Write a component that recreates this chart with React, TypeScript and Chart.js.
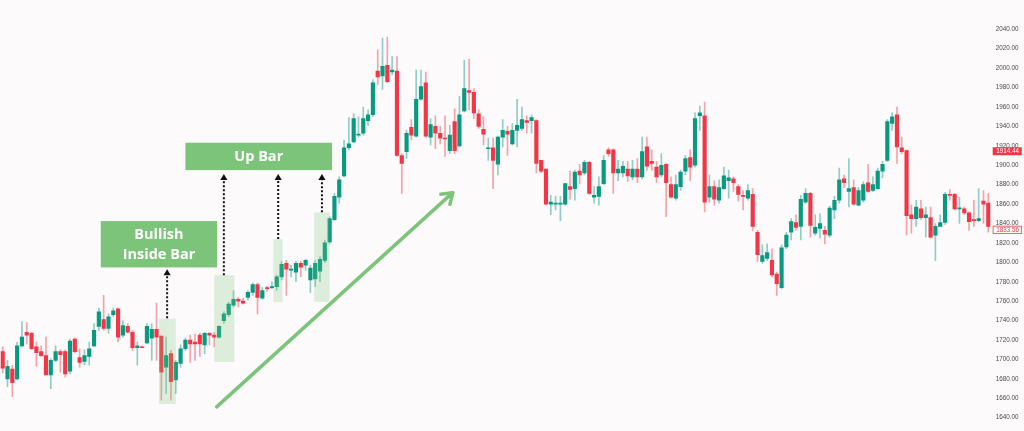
import React, { useEffect, useRef } from 'react';
import { Chart, registerables } from 'chart.js';

Chart.register(...registerables);

const OPEN = [
  1708, 1680, 1690, 1680, 1714, 1728, 1727, 1713, 1708, 1704, 1684, 1699, 1708, 1708, 1688, 1721, 1702, 1698, 1703, 1714,
  1734, 1741, 1732, 1746, 1752, 1725, 1734, 1728, 1712, 1713, 1717, 1722, 1731, 1724,
  1692, 1706, 1679, 1696, 1711, 1720, 1718, 1725, 1715, 1727, 1725, 1723, 1740, 1746, 1756, 1762, 1760, 1764, 1769, 1777,
  1763, 1774, 1774, 1775, 1785, 1799, 1792, 1790, 1799, 1797, 1782, 1783, 1791, 1802, 1821, 1844,
  1867, 1889, 1918, 1924, 1931, 1933, 1946, 1952, 1997, 1992, 2003, 1996, 1997, 1910, 1914, 1939, 1930, 1968, 1985, 1929,
  1940, 1933, 1928, 1915, 1945, 1920, 1956, 1977, 1975, 1953, 1937, 1917,
  1918, 1901, 1929, 1935, 1922, 1936, 1938, 1946, 1946, 1946, 1905, 1896, 1860, 1860, 1860, 1860, 1878, 1876, 1894, 1892,
  1903, 1867, 1868, 1881, 1916, 1916, 1892, 1892, 1896, 1888, 1896,
  1888, 1919, 1904, 1898, 1890, 1901, 1880, 1866, 1878, 1894, 1908, 1900, 1951, 1951, 1867, 1878, 1864, 1876, 1884, 1886,
  1878, 1869, 1866, 1870, 1831, 1801, 1804, 1802, 1788, 1774, 1816,
  1831, 1841, 1837, 1862, 1871, 1830, 1835, 1833, 1828, 1854, 1864, 1886, 1873, 1877, 1859, 1864, 1882, 1874, 1876, 1894,
  1905, 1943, 1952, 1918, 1915,
  1849, 1845, 1855, 1846, 1846, 1828, 1837, 1841, 1870, 1870, 1855, 1855, 1851, 1844, 1843, 1863, 1861,
];

const HIGH = [
  1713, 1699, 1694, 1718, 1739, 1738, 1728, 1718, 1714, 1723, 1701, 1714, 1710, 1710, 1721, 1722, 1711, 1710, 1718, 1737,
  1753, 1766, 1747, 1753, 1753, 1740, 1737, 1730, 1718, 1714, 1737, 1737, 1758, 1724,
  1723, 1709, 1699, 1715, 1722, 1725, 1726, 1727, 1728, 1728, 1728, 1735, 1749, 1759, 1771, 1764, 1763, 1771, 1779, 1779,
  1774, 1775, 1780, 1787, 1801, 1802, 1797, 1801, 1801, 1803, 1797, 1802, 1806, 1823, 1847, 1871,
  1888, 1926, 1949, 1953, 1950, 1960, 1957, 1988, 2019, 2031, 2032, 2012, 2012, 1912, 1936, 1947, 1998, 1998, 1996, 1948,
  1951, 1940, 1951, 1941, 1958, 1971, 2008, 2009, 1979, 1957, 1950, 1928,
  1928, 1930, 1947, 1940, 1943, 1968, 1960, 1951, 1952, 1947, 1905, 1896, 1869, 1868, 1868, 1881, 1894, 1895, 1901, 1905,
  1904, 1878, 1888, 1910, 1918, 1917, 1905, 1904, 1904, 1905, 1907,
  1929, 1929, 1916, 1904, 1912, 1902, 1888, 1890, 1895, 1910, 1916, 1954, 1961, 1965, 1890, 1884, 1885, 1898, 1895, 1888,
  1880, 1874, 1880, 1876, 1833, 1818, 1819, 1814, 1790, 1818, 1831,
  1845, 1849, 1869, 1876, 1872, 1849, 1850, 1837, 1858, 1868, 1897, 1890, 1907, 1885, 1877, 1883, 1901, 1888, 1897, 1904,
  1947, 1954, 1960, 1929, 1916,
  1859, 1864, 1864, 1857, 1857, 1840, 1849, 1872, 1875, 1871, 1867, 1857, 1852, 1864, 1876, 1874, 1871,
];

const LOW = [
  1686, 1672, 1662, 1679, 1713, 1716, 1710, 1693, 1703, 1684, 1670, 1698, 1687, 1682, 1685, 1707, 1692, 1694, 1694, 1713,
  1730, 1730, 1727, 1744, 1718, 1723, 1727, 1709, 1694, 1712, 1716, 1699, 1699, 1658,
  1665, 1658, 1665, 1692, 1709, 1697, 1699, 1703, 1706, 1715, 1713, 1722, 1737, 1744, 1754, 1754, 1757, 1761, 1766, 1747,
  1762, 1770, 1773, 1771, 1782, 1766, 1785, 1780, 1785, 1792, 1769, 1775, 1780, 1800, 1819, 1843,
  1861, 1888, 1916, 1923, 1929, 1931, 1941, 1950, 1983, 1978, 1985, 1993, 1909, 1871, 1907, 1926, 1929, 1967, 1929, 1921,
  1917, 1922, 1909, 1912, 1912, 1919, 1955, 1957, 1948, 1938, 1921, 1905,
  1876, 1890, 1919, 1910, 1921, 1919, 1936, 1933, 1933, 1892, 1892, 1859, 1849, 1854, 1843, 1859, 1865, 1864, 1881, 1890,
  1870, 1861, 1859, 1880, 1909, 1871, 1884, 1888, 1883, 1885, 1882,
  1886, 1895, 1895, 1882, 1888, 1847, 1866, 1864, 1874, 1890, 1884, 1898, 1936, 1852, 1862, 1859, 1861, 1875, 1866, 1873,
  1863, 1854, 1864, 1833, 1801, 1799, 1802, 1785, 1766, 1773, 1814,
  1823, 1833, 1823, 1861, 1826, 1828, 1825, 1819, 1826, 1845, 1861, 1877, 1857, 1859, 1858, 1862, 1872, 1873, 1875, 1887,
  1904, 1936, 1902, 1912, 1828,
  1830, 1837, 1844, 1826, 1825, 1802, 1837, 1839, 1864, 1854, 1840, 1849, 1833, 1837, 1842, 1840, 1831,
];

const CLOSE = [
  1691, 1693, 1676, 1714, 1723, 1725, 1711, 1707, 1704, 1684, 1699, 1708, 1705, 1685, 1719, 1708, 1697, 1704, 1711, 1730,
  1749, 1732, 1744, 1750, 1723, 1735, 1728, 1712, 1714, 1712, 1734, 1731, 1723, 1687,
  1704, 1677, 1697, 1711, 1720, 1716, 1716, 1716, 1727, 1725, 1723, 1734, 1747, 1757, 1762, 1760, 1758, 1769, 1777, 1764,
  1771, 1773, 1775, 1785, 1798, 1793, 1793, 1799, 1795, 1802, 1794, 1799, 1803, 1820, 1845, 1868,
  1885, 1918, 1922, 1948, 1932, 1948, 1952, 1985, 1991, 2002, 1986, 1998, 1910, 1902, 1933, 1931, 1968, 1981, 1930, 1942,
  1933, 1928, 1927, 1931, 1915, 1952, 1979, 1975, 1954, 1940, 1932, 1918,
  1905, 1929, 1936, 1932, 1936, 1941, 1947, 1944, 1949, 1902, 1894, 1860, 1862, 1861, 1861, 1881, 1875, 1893, 1890, 1903,
  1871, 1869, 1878, 1905, 1912, 1892, 1896, 1899, 1889, 1896, 1888,
  1914, 1899, 1902, 1888, 1900, 1882, 1867, 1880, 1893, 1907, 1898, 1948, 1954, 1862, 1878, 1865, 1877, 1889, 1887, 1882,
  1870, 1868, 1874, 1837, 1808, 1807, 1810, 1787, 1778, 1815, 1828,
  1842, 1836, 1865, 1871, 1838, 1836, 1840, 1829, 1856, 1864, 1885, 1882, 1876, 1860, 1874, 1880, 1873, 1880, 1894, 1901,
  1945, 1950, 1919, 1914, 1848,
  1845, 1857, 1846, 1849, 1826, 1837, 1841, 1870, 1869, 1855, 1856, 1851, 1842, 1843, 1845, 1860, 1837,
];

const Y_TICKS = [
  1640, 1660, 1680, 1700, 1720, 1740, 1760, 1780, 1800, 1820, 1840, 1860, 1880, 1900, 1920, 1940, 1960, 1980, 2000, 2020, 2040,
];

const REF_PRICE = 1914.44;
const LAST_PRICE = 1833.56;

// Annotations in data space: candle index / price
const HIGHLIGHTS = [
  { i0: 32.5, i1: 36.0, p0: 1654, p1: 1742 },
  { i0: 44.0, i1: 48.2, p0: 1697.5, p1: 1786.8 },
  { i0: 56.3, i1: 58.2, p0: 1759, p1: 1824 },
  { i0: 64.8, i1: 68.0, p0: 1759.3, p1: 1851.4 },
];
const DOT_ARROWS = [
  { i: 34.2, from: 1742.5, to: 1793 },
  { i: 46.0, from: 1786.8, to: 1891 },
  { i: 57.3, from: 1824, to: 1891 },
  { i: 66.4, from: 1851.7, to: 1891 },
];
const LABEL_BOXES = [
  { i0: 38.0, i1: 68.5, p0: 1895, p1: 1923.2, lines: ['Up Bar'] },
  { i0: 20.4, i1: 44.6, p0: 1794.8, p1: 1842.5, lines: ['Bullish', 'Inside Bar'] },
];
const TREND_ARROW = { i0: 44.5, p0: 1651.1, i1: 93.6, p1: 1871.8 };

const GREEN = '#089981';
const RED = '#f23645';
const GREEN_WICK = 'rgba(8,153,129,0.45)';
const RED_WICK = 'rgba(242,54,69,0.45)';
const LABEL_GREEN = '#7cc47a';
const BG = '#fcfafb';

const annotationPlugin = {
  id: 'annotations',
  beforeDraw(chart: any) {
    const { ctx, width, height } = chart;
    ctx.save();
    ctx.fillStyle = BG;
    ctx.fillRect(0, 0, width, height);
    ctx.restore();
  },
  afterDatasetsDraw(chart: any) {
    const { ctx } = chart;
    const x = chart.scales.x;
    const y = chart.scales.y;
    const px = (i: number) => x.getPixelForValue(i);
    const py = (p: number) => y.getPixelForValue(p);
    ctx.save();

    // highlight rectangles
    ctx.fillStyle = 'rgba(124,196,122,0.24)';
    HIGHLIGHTS.forEach((h) => {
      const x0 = px(h.i0);
      const x1 = px(h.i1);
      const y0 = py(h.p1);
      const y1 = py(h.p0);
      ctx.fillRect(x0, y0, x1 - x0, y1 - y0);
    });

    // dotted arrows
    DOT_ARROWS.forEach((a) => {
      const ax = px(a.i);
      const yb = py(a.from);
      const yt = py(a.to);
      ctx.strokeStyle = '#111';
      ctx.lineWidth = 2;
      ctx.setLineDash([2, 2]);
      ctx.beginPath();
      ctx.moveTo(ax, yb);
      ctx.lineTo(ax, yt + 5);
      ctx.stroke();
      ctx.setLineDash([]);
      ctx.fillStyle = '#111';
      ctx.beginPath();
      ctx.moveTo(ax, yt);
      ctx.lineTo(ax - 3.6, yt + 6);
      ctx.lineTo(ax + 3.6, yt + 6);
      ctx.closePath();
      ctx.fill();
    });

    // label boxes
    LABEL_BOXES.forEach((b) => {
      const x0 = px(b.i0);
      const x1 = px(b.i1);
      const y0 = py(b.p1);
      const y1 = py(b.p0);
      ctx.fillStyle = LABEL_GREEN;
      ctx.fillRect(x0, y0, x1 - x0, y1 - y0);
      ctx.fillStyle = '#ffffff';
      ctx.font = 'bold 14.5px "Open Sans", "DejaVu Sans", sans-serif';
      ctx.textAlign = 'center';
      ctx.textBaseline = 'middle';
      const cx = (x0 + x1) / 2;
      const cy = (y0 + y1) / 2;
      const lh = 19.5;
      const n = b.lines.length;
      b.lines.forEach((t, k) => {
        ctx.fillText(t, cx, cy + (k - (n - 1) / 2) * lh + 0.5);
      });
    });

    // trend arrow
    const tx0 = px(TREND_ARROW.i0);
    const ty0 = py(TREND_ARROW.p0);
    const tx1 = px(TREND_ARROW.i1);
    const ty1 = py(TREND_ARROW.p1);
    ctx.strokeStyle = LABEL_GREEN;
    ctx.lineWidth = 3.5;
    ctx.lineCap = 'round';
    ctx.lineJoin = 'round';
    ctx.beginPath();
    ctx.moveTo(tx0, ty0);
    ctx.lineTo(tx1, ty1);
    ctx.stroke();
    const ang = Math.atan2(ty1 - ty0, tx1 - tx0);
    const hl = 12;
    ctx.beginPath();
    ctx.moveTo(tx1 - hl * Math.cos(ang - 0.6), ty1 - hl * Math.sin(ang - 0.6));
    ctx.lineTo(tx1, ty1);
    ctx.lineTo(tx1 - hl * Math.cos(ang + 0.6), ty1 - hl * Math.sin(ang + 0.6));
    ctx.stroke();

    ctx.restore();
  },
  afterDraw(chart: any) {
    const { ctx } = chart;
    const y = chart.scales.y;
    const left = y.left + 2;
    const w = 29;
    const h = 8;
    ctx.save();
    ctx.font = '6.3px "Liberation Sans", Arial, sans-serif';
    ctx.textAlign = 'left';
    ctx.textBaseline = 'middle';
    // reference price (filled red)
    let cy = y.getPixelForValue(REF_PRICE);
    ctx.fillStyle = RED;
    ctx.fillRect(left, cy - h / 2, w, h);
    ctx.fillStyle = '#ffffff';
    ctx.fillText(REF_PRICE.toFixed(2), left + 3.5, cy + 0.3);
    // last price (outlined)
    cy = y.getPixelForValue(LAST_PRICE);
    ctx.fillStyle = '#ffffff';
    ctx.fillRect(left, cy - h / 2, w, h);
    ctx.strokeStyle = RED;
    ctx.lineWidth = 0.8;
    ctx.strokeRect(left + 0.4, cy - h / 2 + 0.4, w - 0.8, h - 0.8);
    ctx.fillStyle = RED;
    ctx.fillText(LAST_PRICE.toFixed(2), left + 3.5, cy + 0.3);
    ctx.restore();
  },
};

export default function App() {
  const ref = useRef<HTMLCanvasElement | null>(null);

  useEffect(() => {
    if (!ref.current) return;
    const labels = OPEN.map((_, i) => i);
    const up = CLOSE.map((c, i) => c >= OPEN[i]);
    const chart = new Chart(ref.current, {
      type: 'bar',
      data: {
        labels,
        datasets: [
          {
            label: 'body',
            data: OPEN.map((o, i) => [o, CLOSE[i]]) as any,
            backgroundColor: up.map((u) => (u ? GREEN : RED)),
            barThickness: 3.5,
            minBarLength: 1,
            grouped: false,
            order: 0,
          } as any,
          {
            label: 'wick',
            data: LOW.map((l, i) => [l, HIGH[i]]) as any,
            backgroundColor: up.map((u) => (u ? GREEN_WICK : RED_WICK)),
            barThickness: 1,
            grouped: false,
            order: 1,
          } as any,
        ],
      },
      options: {
        responsive: false,
        animation: false,
        devicePixelRatio: 1,
        events: [],
        layout: { padding: { left: 0.3, right: 0, top: 0, bottom: 0 } },
        plugins: {
          legend: { display: false },
          tooltip: { enabled: false },
        },
        scales: {
          x: {
            type: 'category',
            display: false,
            offset: true,
          },
          y: {
            type: 'linear',
            position: 'right',
            min: 1626.3,
            max: 2070.2,
            grid: { display: false, drawTicks: false },
            border: { display: false },
            ticks: {
              padding: 5,
              color: '#4a4a4a',
              font: { family: '"Liberation Sans", Arial, sans-serif', size: 6.3 },
              callback: (v: any) => Number(v).toFixed(2),
            },
            afterBuildTicks: (scale: any) => {
              scale.ticks = Y_TICKS.map((v) => ({ value: v }));
            },
            afterFit: (scale: any) => {
              scale.width = 33.3;
              scale.paddingTop = 0;
              scale.paddingBottom = 0;
            },
          },
        },
      } as any,
      plugins: [annotationPlugin],
    });
    return () => chart.destroy();
  }, []);

  return (
    <div style={{ position: 'fixed', left: 0, top: 0, width: 1024, height: 431, background: BG }}>
      <canvas ref={ref} width={1024} height={431} style={{ display: 'block' }} />
    </div>
  );
}
